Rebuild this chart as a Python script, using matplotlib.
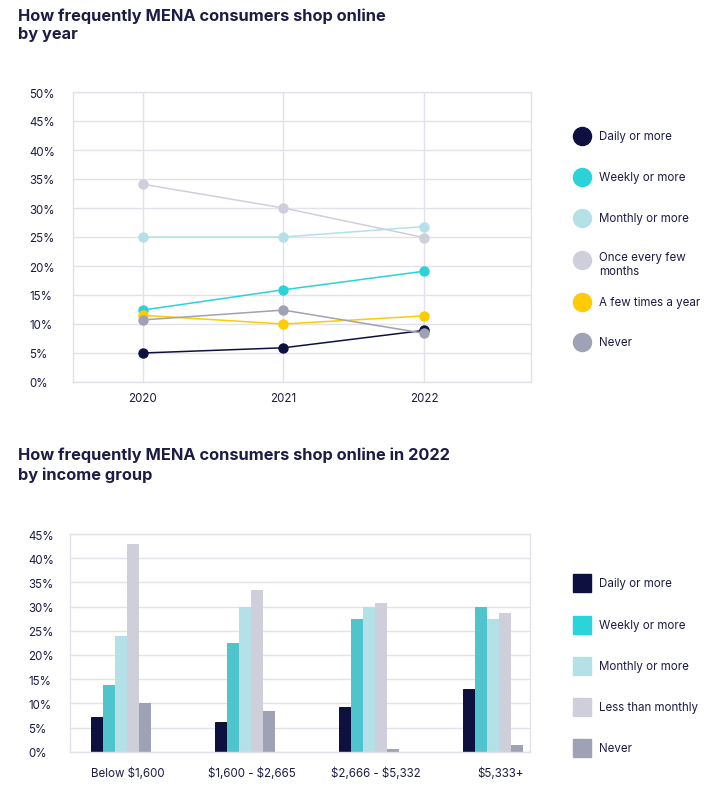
import matplotlib.pyplot as plt
from matplotlib.lines import Line2D
from matplotlib.patches import Rectangle

plt.rcParams['font.family'] = ['Inter', 'DejaVu Sans']
plt.rcParams['text.parse_math'] = False

# ---- data: online shopping frequency by year ----
years = [2020, 2021, 2022]
year_series = ["Daily or more", "Weekly or more", "Monthly or more",
               "Once every few\nmonths", "A few times a year", "Never"]
daily_y = [5.0, 5.9, 8.9]
weekly_y = [12.4, 15.9, 19.1]
monthly_y = [25.0, 25.0, 26.8]
few_months_y = [34.1, 30.0, 24.9]
few_year_y = [11.5, 10.0, 11.4]
never_y = [10.7, 12.4, 8.4]

# ---- data: 2022 by income group ----
income_groups = ["Below $1,600", "$1,600 - $2,665", "$2,666 - $5,332", "$5,333+"]
income_series = ["Daily or more", "Weekly or more", "Monthly or more",
                 "Less than monthly", "Never"]
daily_i = [7.2, 6.1, 9.2, 13.0]
weekly_i = [13.8, 22.4, 27.4, 30.0]
monthly_i = [23.9, 30.0, 30.0, 27.5]
less_i = [42.9, 33.4, 30.7, 28.6]
never_i = [10.0, 8.4, 0.6, 1.4]

navy = '#0e1140'
text_c = '#1c1c44'
grid_c = '#e2e2ea'
line_colors = [navy, '#2bd3d8', '#b4e1e7', '#cfcfdb', '#ffcb05', '#9fa1b4']
bar_colors = [navy, '#4fc4cc', '#b4e1e7', '#cfcfdb', '#9fa1b4']
bar_legend_colors = [navy, '#2ad4d9', '#b4e1e7', '#cfcfdb', '#9fa1b4']

W, H = 714, 803
fig = plt.figure(figsize=(W / 100, H / 100), dpi=100)


def px_axes(x0, y0, x1, y1):
    return fig.add_axes([x0 / W, 1 - y1 / H, (x1 - x0) / W, (y1 - y0) / H])


def style(ax, ypad):
    for s in ax.spines.values():
        s.set_color(grid_c)
        s.set_linewidth(1.0)
    ax.tick_params(length=0, labelsize=8.3, labelcolor=text_c)
    ax.tick_params(axis='y', pad=ypad)
    for lab in ax.get_yticklabels():
        lab.set_ha('left')
    ax.set_axisbelow(True)


# ---- top line chart ----
ax1 = px_axes(72.5, 93, 531, 383)
year_vals = [daily_y, weekly_y, monthly_y, few_months_y, few_year_y, never_y]
for vals, c in zip(year_vals, line_colors):
    ax1.plot(years, vals, color=c, lw=1.1, marker='o', ms=6.5, mec=c)
ax1.set_xlim(2019.5, 2022.76)
ax1.set_ylim(0, 50)
ax1.set_xticks(years)
ax1.set_yticks(range(0, 51, 5))
ax1.set_yticklabels([f"{v}%" for v in range(0, 51, 5)])
ax1.grid(True, color=grid_c, lw=1.0)
ax1.tick_params(axis='x', pad=7.5)
style(ax1, 31.3)

# ---- bottom bar chart ----
ax2 = px_axes(70, 535, 530, 752.7)
w = 0.0975
x = list(range(len(income_groups)))
inc_vals = [daily_i, weekly_i, monthly_i, less_i, never_i]
for i, (vals, c) in enumerate(zip(inc_vals, bar_colors)):
    off = (i - 2) * w
    ax2.bar([p + off for p in x], vals, width=w, color=c,
            edgecolor='#000000' if i == 0 else c, lw=0.6 if i == 0 else 0)
ax2.set_xlim(-0.41, 3.3)
ax2.set_ylim(0, 45)
ax2.set_xticks([p + 0.06 for p in x])
ax2.set_xticklabels(income_groups)
ax2.set_yticks(range(0, 46, 5))
ax2.set_yticklabels([f"{v}%" for v in range(0, 46, 5)])
ax2.yaxis.grid(True, color=grid_c, lw=1.0)
ax2.tick_params(axis='x', pad=11)
style(ax2, 30.2)

# ---- overlay in pixel coordinates for titles and legends ----
ov = fig.add_axes([0, 0, 1, 1], zorder=-1)
ov.set_xlim(0, W)
ov.set_ylim(H, 0)
ov.axis('off')

ov.text(18, 8, "How frequently MENA consumers shop online\nby year",
        fontsize=11.8, fontweight='bold', color=text_c, va='top',
        linespacing=1.3)
ov.text(18, 448, "How frequently MENA consumers shop online in 2022\nby income group",
        fontsize=11.8, fontweight='bold', color=text_c, va='top',
        linespacing=1.3)

leg1_y = [137, 178, 219, 265, 303, 343]
for lab, c, yy in zip(year_series, line_colors, leg1_y):
    ov.add_line(Line2D([581.5], [yy - (4 if '\n' in lab else 0)], marker='o',
                       ms=13, color=c, mec=c))
    ov.text(599, yy, lab, fontsize=8.3, color=text_c, va='center',
            linespacing=1.25)

leg2_y = [584, 626, 667, 708, 749]
for lab, c, yy in zip(income_series, bar_legend_colors, leg2_y):
    ov.add_patch(Rectangle((573, yy - 9), 18, 18, color=c))
    ov.text(599, yy, lab, fontsize=8.3, color=text_c, va='center')

fig.savefig("out.png", dpi=100)
